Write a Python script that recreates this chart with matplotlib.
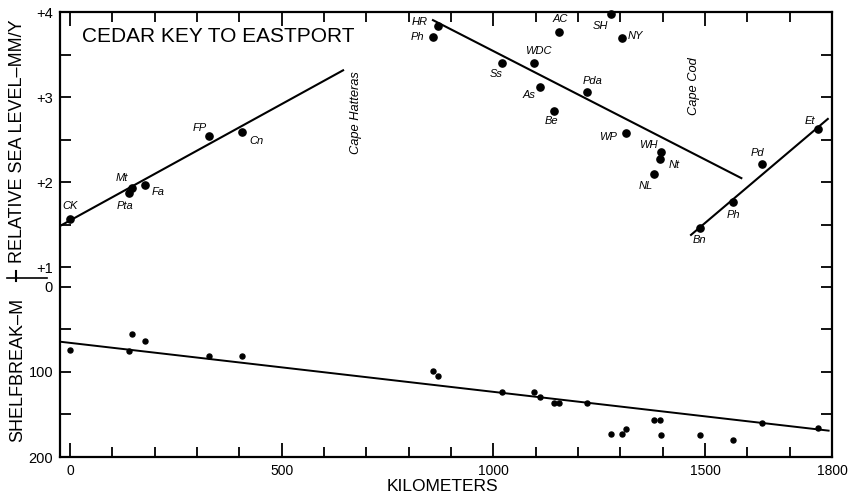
import numpy as np
import matplotlib.pyplot as plt
from matplotlib.lines import Line2D

plt.rcParams['font.family'] = ['Liberation Sans', 'DejaVu Sans']

# tide gauge stations along the coast, Cedar Key to Eastport
stations = ['CK', 'Pta', 'Mt', 'Fa', 'FP', 'Cn', 'Ph', 'HR', 'Ss', 'WDC', 'As', 'Be',
            'AC', 'Pda', 'SH', 'NY', 'WP', 'NL', 'Nt', 'WH', 'Bn', 'Ph', 'Pd', 'Et']
distance_km = [0, 140, 145, 176, 328, 407, 857, 870, 1020, 1096, 1110, 1144,
               1155, 1220, 1278, 1305, 1313, 1379, 1394, 1396, 1488, 1566, 1635, 1768]
sea_level_rate = [1.57, 1.87, 1.93, 1.97, 2.54, 2.59, 3.71, 3.84, 3.40, 3.40, 3.12, 2.84,
                  3.77, 3.06, 3.98, 3.70, 2.58, 2.10, 2.27, 2.35, 1.46, 1.77, 2.21, 2.62]
shelfbreak_depth = [74, 75, 55, 63, 81.5, 81.5, 99, 105, 124, 123.5, 130, 136,
                    137, 136, 173, 173, 167, 156, 156, 174, 174, 180, 160, 166]

# fitted trends
trend_km = [[-25, 647], [855, 1588], [1465, 1792]]
trend_rate = [[1.48, 3.32], [3.91, 2.04], [1.37, 2.75]]
depth_trend_km = [-25, 1792]
depth_trend = [64.3, 169]

# label offsets from each dot, in pixels (right, down)
label_offset = [(0, -13), (-4, 13), (-10, -10), (14, 7), (-9, -8), (14, 9),
                (-15, 0), (-19, -4), (-6, 11), (4, -12), (-11, 8), (-3, 10),
                (1, -13), (6, -11), (-11, 12), (13, -2), (-18, 4), (-8, 12),
                (14, 6), (-13, -7), (0, 12), (1, 13), (-5, -11), (-9, -8)]


def depth_to_y(d):
    # shelfbreak depth shares the axis below the sea-level scale
    return 0.765 - np.asarray(d, dtype=float) / 100.0


fig = plt.figure(figsize=(8.48, 4.94), dpi=100)
ax = fig.add_axes([60 / 848, 37 / 494, 772 / 848, 445 / 494])

for km, rate in zip(trend_km, trend_rate):
    ax.plot(km, rate, color='black', lw=1.5, solid_capstyle='butt')
ax.plot(depth_trend_km, depth_to_y(depth_trend), color='black', lw=1.4)

ax.plot(distance_km, sea_level_rate, 'o', color='black', ms=5.2, clip_on=False)
ax.plot(distance_km, depth_to_y(shelfbreak_depth), 'o', color='black', ms=3.6, clip_on=False)

for name, km, rate, (dx, dy) in zip(stations, distance_km, sea_level_rate, label_offset):
    ax.annotate(name, (km, rate), xytext=(dx * 0.72, -dy * 0.72),
                textcoords='offset points', ha='center', va='center',
                style='italic', fontsize=8)

ax.text(675, 2.82, 'Cape Hatteras', rotation=90, style='italic', fontsize=9.3,
        ha='center', va='center')
ax.text(1475, 3.13, 'Cape Cod', rotation=90, style='italic', fontsize=9.3,
        ha='center', va='center')

ax.set_xlim(-24, 1800)
ax.set_ylim(-1.235, 4)

ax.set_xticks([0, 500, 1000, 1500, 1800])
ax.set_xticklabels(['0', '500', '1000', '1500', '1800'])
ax.set_xticks([100, 200, 300, 400, 600, 700, 800, 900, 1100, 1200, 1300,
               1400, 1600, 1700], minor=True)

ax.set_yticks([4, 3, 2, 1, *depth_to_y([0, 100, 200])])
ax.set_yticklabels(['+4', '+3', '+2', '+1', '0', '100', '200'])
ax.set_yticks([3.5, 2.5, 1.5, *depth_to_y([50, 150])], minor=True)

ax.tick_params(axis='x', which='major', direction='in', length=10, width=1.3,
               top=True, labelsize=10, pad=5)
ax.tick_params(axis='x', which='minor', direction='in', length=7, width=1.3, top=True)
ax.tick_params(axis='y', which='both', direction='in', length=8, width=1.3,
               right=True, labelsize=10.5, pad=5)

for spine in ax.spines.values():
    spine.set_linewidth(1.6)

fig.text(82 / 848, 1 - 36 / 494, 'CEDAR KEY TO EASTPORT', fontsize=15,
         ha='left', va='center')
fig.text(442 / 848, 1 - 491 / 494, 'KILOMETERS', fontsize=12.5,
         ha='center', va='baseline')
fig.text(18 / 848, 1 - 141 / 494, 'RELATIVE SEA LEVEL\u2013MM/Y', fontsize=13,
         rotation=90, ha='center', va='center')
fig.text(18 / 848, 1 - 370 / 494, 'SHELFBREAK\u2013M', fontsize=13,
         rotation=90, ha='center', va='center')

# divider between the two axis titles
fig.add_artist(Line2D([7 / 848, 47 / 848], [1 - 278 / 494] * 2,
                      transform=fig.transFigure, color='black', lw=1.2))
fig.add_artist(Line2D([16 / 848] * 2, [1 - 271 / 494, 1 - 281 / 494],
                      transform=fig.transFigure, color='black', lw=1.5))

fig.savefig('out.png', dpi=100)
